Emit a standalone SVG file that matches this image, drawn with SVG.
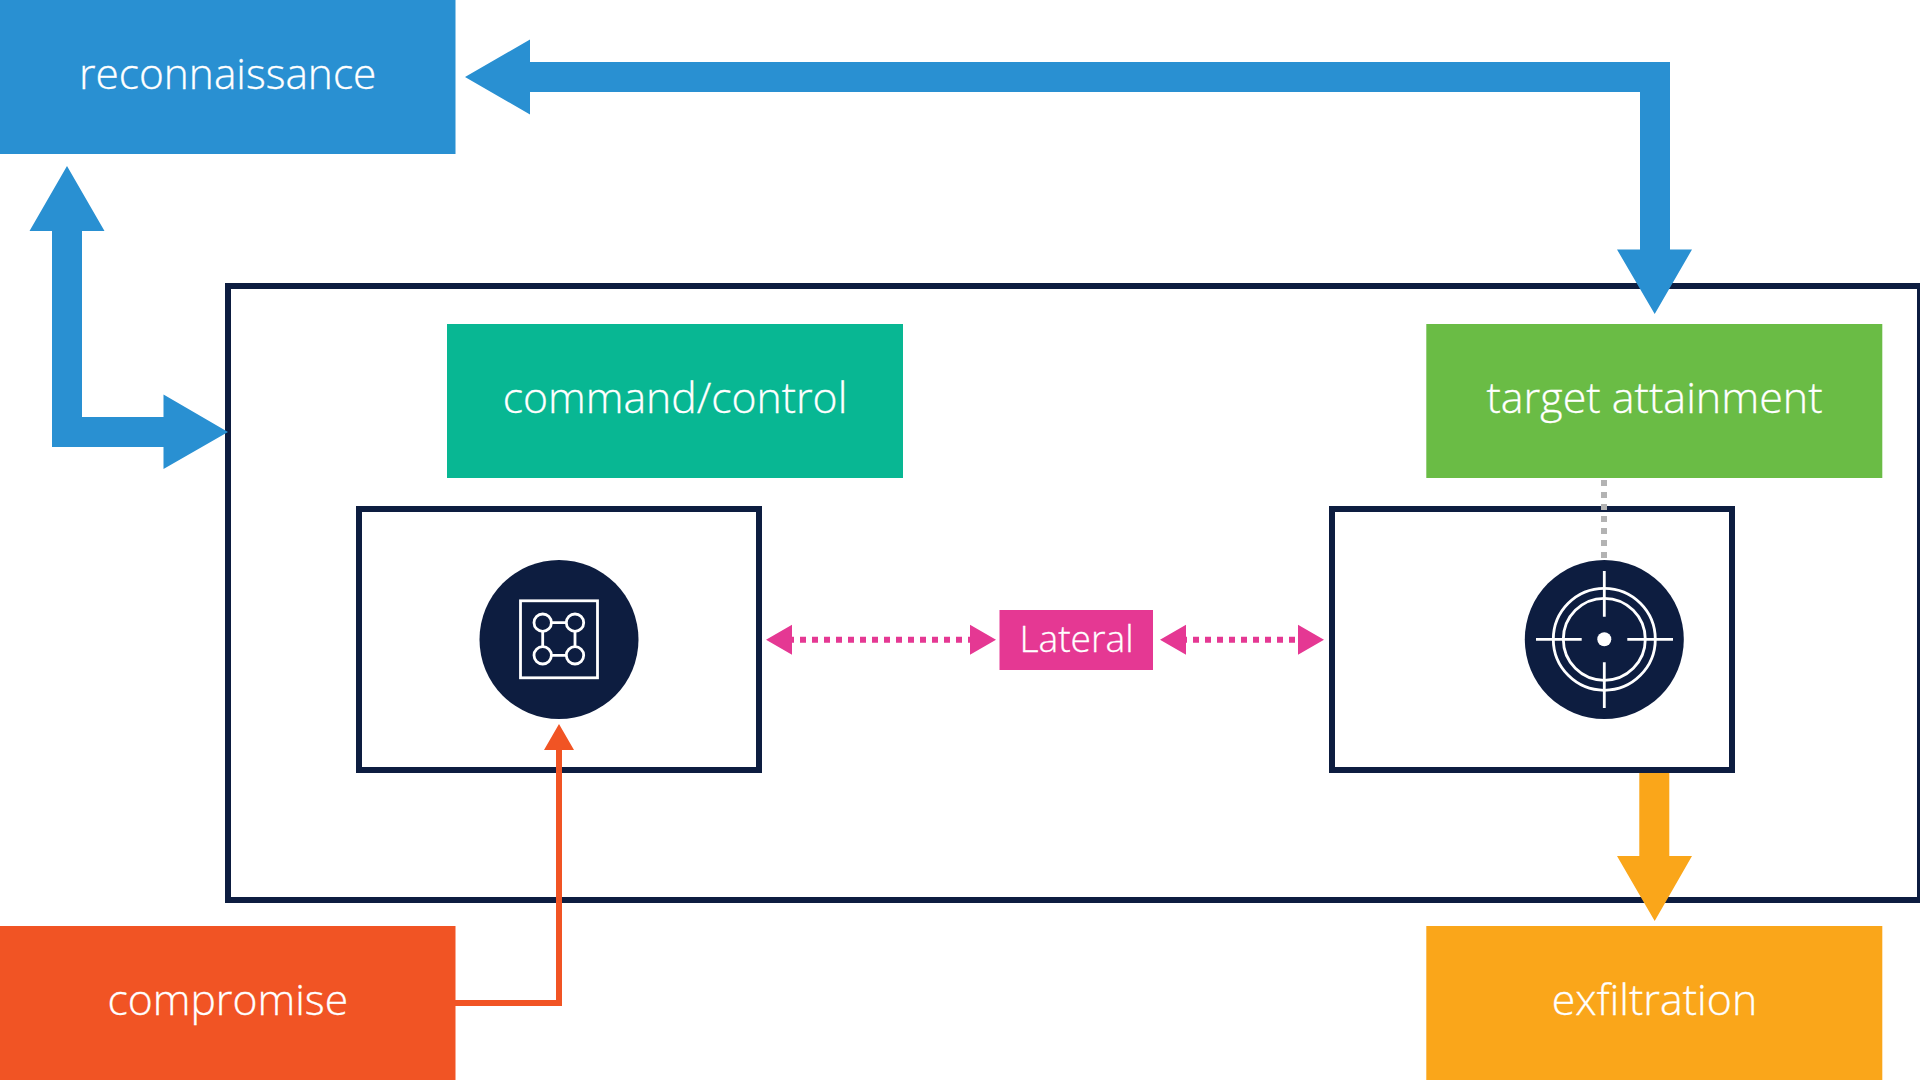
<svg xmlns="http://www.w3.org/2000/svg" width="1920" height="1080" viewBox="0 0 1920 1080">
<style>
.lbl{font-family:"Open Sans","Noto Sans",sans-serif;font-weight:350;font-size:42.4px;fill:#fff;text-anchor:middle;stroke:#fff;stroke-width:.3px}
.frame{fill:none;stroke:#0d1d40;stroke-width:6}
.ic{fill:none;stroke:#fff;stroke-width:2.8}
.dot{fill:none;stroke:#e53893;stroke-width:6;stroke-dasharray:6 6}
.pink{fill:#e53893}
.blue{fill:#2990d2}
</style>
<rect width="1920" height="1080" fill="#fff"/>
<g id="trust-boundary"><rect class="frame" x="228" y="286" width="1692" height="614"/></g>
<g id="reconnaissance"><rect x="0" y="0" width="455.5" height="154" fill="#2990d2"/><text class="lbl" x="227.7" y="88.5">reconnaissance</text></g>
<g id="command-control"><rect x="447" y="324" width="456" height="154" fill="#08b793"/><text class="lbl" x="675" y="412.7" style="font-size:42.7px">command/control</text></g>
<g id="target-attainment"><rect x="1426.3" y="324" width="456" height="154" fill="#6abc45"/><text class="lbl" x="1654.5" y="412.7" style="font-size:43px">target attainment</text></g>
<g id="compromise"><rect x="0" y="926" width="455.5" height="154" fill="#f15424"/><text class="lbl" x="227.8" y="1014.5" style="font-size:42.7px">compromise</text></g>
<g id="exfiltration"><rect x="1426.3" y="926" width="456" height="154" fill="#faa61a"/><text class="lbl" x="1654.5" y="1014.5" style="font-size:42.9px">exfiltration</text></g>
<g id="lateral"><rect x="999.5" y="610" width="153.5" height="60" fill="#e53893"/><text class="lbl" x="1076.5" y="651.7" style="font-size:37.2px">Lateral</text></g>
<g id="c2-host"><rect class="frame" x="359" y="509" width="400" height="261"/><circle cx="559" cy="639.5" r="79.5" fill="#0d1d40"/>
<rect class="ic" x="520.5" y="600.8" width="77" height="77"/>
<g class="ic"><circle cx="542.7" cy="622.7" r="8.7"/><circle cx="575" cy="622.7" r="8.7"/><circle cx="542.7" cy="655.3" r="8.7"/><circle cx="575" cy="655.3" r="8.7"/><path d="M551.4 622.7H566.3M551.4 655.3H566.3M542.7 631.4V646.6M575 631.4V646.6"/></g></g>
<g id="target-host"><rect class="frame" x="1332" y="509" width="400" height="261"/><circle cx="1604.3" cy="639.5" r="79.5" fill="#0d1d40"/>
<g class="ic"><circle cx="1604.3" cy="639.3" r="51"/><circle cx="1604.3" cy="639.3" r="41"/><path d="M1536 639.3H1581.7M1627.3 639.3H1673M1604.3 571V616.7M1604.3 662.3V708"/></g><circle cx="1604.3" cy="639.3" r="7" fill="#fff"/></g>
<g id="connectors">
<path class="blue" d="M465 77L530 39.5V62H1670V249.5H1692L1654.7 314L1617 249.5H1640V92H530V114.5Z"/>
<path class="blue" d="M67 166L104.5 231H82V417H163.5V394.5L228 432L163.5 469V447H52V231H29.5Z"/>
<path d="M1639.3 773H1669.3V856H1692L1654.7 921L1617 856H1639.3Z" fill="#faa61a"/>
<path d="M559 724L574 750H562V1006H455V1000H556V750H544Z" fill="#f15424"/>
<path d="M1604 480V558" fill="none" stroke="#b3b3b3" stroke-width="6" stroke-dasharray="6 6"/>
<path class="dot" d="M788 639.7H970"/>
<path class="pink" d="M766 639.7L792 624.7V654.7ZM996 639.7L970 624.7V654.7Z"/>
<path class="dot" d="M1181 639.7H1298"/>
<path class="pink" d="M1160 639.7L1186 624.7V654.7ZM1324 639.7L1298 624.7V654.7Z"/>
</g>
</svg>
